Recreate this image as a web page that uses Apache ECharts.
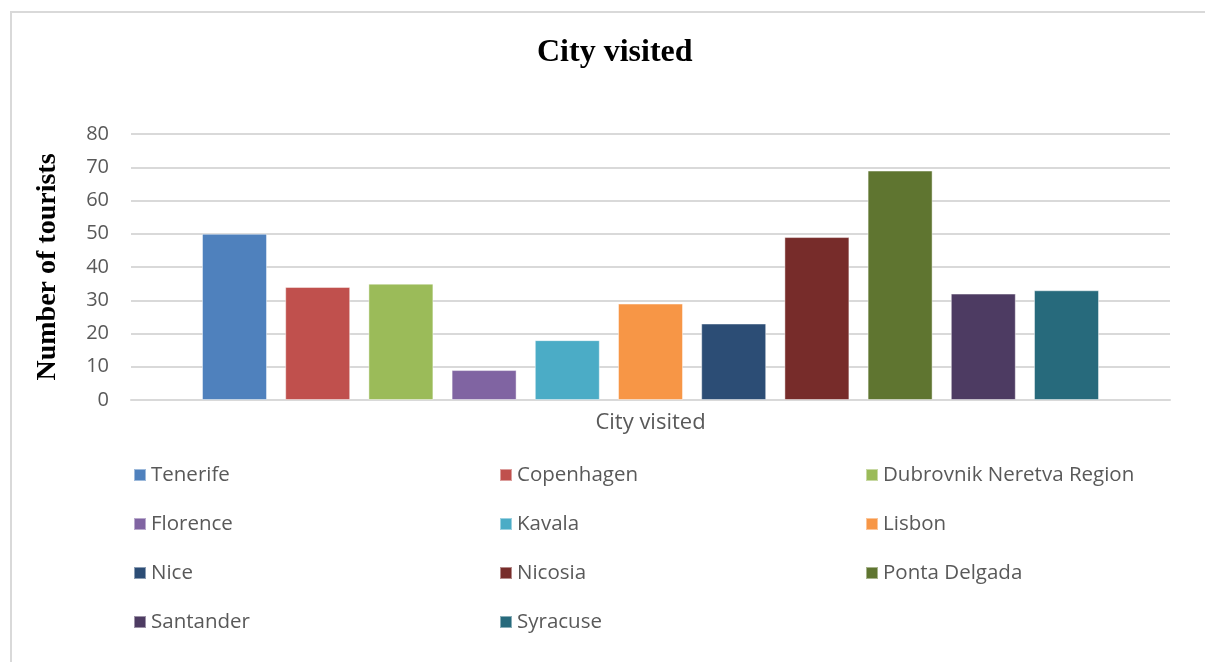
<!DOCTYPE html>
<html>
<head>
<meta charset="utf-8">
<style>
  html, body { margin: 0; padding: 0; background: #ffffff; }
  #chart { width: 1205px; height: 662px; }
</style>
<script src="https://cdn.jsdelivr.net/npm/echarts@6/dist/echarts.min.js"></script>
</head>
<body>
<div id="chart"></div>
<script>
// Single category, one series per city
const categories = ['City visited'];
const cities = ['Tenerife', 'Copenhagen', 'Dubrovnik Neretva Region', 'Florence', 'Kavala',
  'Lisbon', 'Nice', 'Nicosia', 'Ponta Delgada', 'Santander', 'Syracuse'];
const tourists = [50, 34, 35, 9, 18, 29, 23, 49, 69, 32, 33];
const colors = ['#4f81bd', '#c0504d', '#9bbb59', '#8064a2', '#4bacc6',
  '#f79646', '#2c4d75', '#772c2a', '#5f7530', '#4d3b62', '#276a7c'];

// Legend columns, read left to right, row by row
const legendColumns = [
  [cities[0], cities[3], cities[6], cities[9]],
  [cities[1], cities[4], cities[7], cities[10]],
  [cities[2], cities[5], cities[8]]
];
const legendLeft = [133, 499, 865];

const textFont = '"Open Sans", "Noto Sans", sans-serif';
const serifFont = '"Liberation Serif", "DejaVu Serif", serif';

const chart = echarts.init(document.getElementById('chart'), null, { renderer: 'canvas' });

const series = cities.map((name, i) => ({
  name: name,
  type: 'bar',
  data: [tourists[i]],
  barWidth: 65,
  barGap: '28%',
  itemStyle: {
    color: colors[i],
    borderColor: 'rgba(255,255,255,0.45)',
    borderWidth: 1
  }
}));

chart.setOption({
  animation: false,
  color: colors,
  title: {
    text: 'City visited',
    left: 532,
    top: 32,
    textStyle: { fontFamily: serifFont, fontWeight: 'bold', fontSize: 32, color: '#000000' }
  },
  grid: { left: 131, right: 35, top: 134, height: 266 },
  xAxis: {
    type: 'category',
    data: categories,
    axisLine: { show: true, lineStyle: { color: '#d9d9d9', width: 2 } },
    axisTick: { show: false },
    axisLabel: { fontFamily: textFont, fontSize: 22, color: '#595959', margin: 12 }
  },
  yAxis: {
    type: 'value',
    min: 0,
    max: 80,
    interval: 10,
    name: 'Number of tourists',
    nameLocation: 'middle',
    nameGap: 69,
    nameTextStyle: { fontFamily: serifFont, fontWeight: 'bold', fontSize: 28, color: '#000000' },
    axisLine: { show: false },
    axisTick: { show: false },
    axisLabel: { fontFamily: textFont, fontSize: 20, color: '#595959', margin: 22 },
    splitLine: { lineStyle: { color: '#d9d9d9', width: 2 } }
  },
  legend: legendColumns.map((col, i) => ({
    data: col,
    orient: 'vertical',
    left: legendLeft[i],
    top: 461,
    padding: 0,
    itemWidth: 12,
    itemHeight: 12,
    itemGap: 21,
    icon: 'rect',
    selectedMode: false,
    textStyle: { fontFamily: textFont, fontSize: 20.5, lineHeight: 28, color: '#595959' }
  })),
  graphic: [{
    type: 'rect',
    shape: { x: 11, y: 12, width: 1210, height: 670 },
    style: { fill: 'none', stroke: '#d9d9d9', lineWidth: 2 },
    silent: true
  }],
  series: series
});
</script>
</body>
</html>
